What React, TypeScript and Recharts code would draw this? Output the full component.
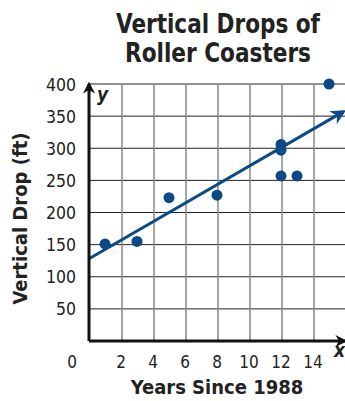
import { ComposedChart, Scatter, Line, XAxis, YAxis, CartesianGrid } from "recharts";

const years = [1, 3, 5, 8, 12, 12, 12, 13, 15];
const drops = [151, 155, 223, 227, 306, 297, 257, 257, 400];
const trendYears = [0, 15.9];
const trendDrops = [128, 357];
const xTicks = [0, 2, 4, 6, 8, 10, 12, 14];
const yTicks = [0, 50, 100, 150, 200, 250, 300, 350, 400];

const FONT = "'DejaVu Sans Condensed', 'DejaVu Sans', sans-serif";
const BLUE = "#0b4a85";
const INK = "#222";

const points = years.map((x, i) => ({ x, y: drops[i] }));
const trend = trendYears.map((x, i) => ({ x, y: trendDrops[i] }));

const XTick = (props: any) => {
  const { x, payload } = props;
  const dx = payload.value === 0 ? -17 : 0;
  return (
    <text x={x + dx} y={368} textAnchor="middle" fontFamily={FONT} fontSize={17} fill={INK}>
      {payload.value}
    </text>
  );
};

const YTick = (props: any) => {
  const { y, payload } = props;
  if (payload.value === 0) return <g />;
  return (
    <text x={76} y={y + 6.5} textAnchor="end" fontFamily={FONT} fontSize={17.5} fill={INK}>
      {payload.value}
    </text>
  );
};

export default function App() {
  return (
    <div style={{ position: "absolute", left: 0, top: 0, width: 345, height: 401, background: "#fff" }}>
      <ComposedChart width={345} height={401} margin={{ top: 84, right: 0, bottom: 0, left: 0 }}>
        <defs>
          <marker id="blueArrow" viewBox="0 0 10 10" refX="8" refY="5" markerWidth="5" markerHeight="5" orient="auto" markerUnits="strokeWidth">
            <path d="M0,0 L10,5 L0,10 L3,5 z" fill={BLUE} />
          </marker>
          <marker id="blackArrow" viewBox="0 0 10 10" refX="8" refY="5" markerWidth="4" markerHeight="4" orient="auto-start-reverse" markerUnits="strokeWidth">
            <path d="M0,0 L10,5 L0,10 L3,5 z" fill="#111" />
          </marker>
        </defs>
        <CartesianGrid vertical={false} stroke="#222" strokeWidth={1} />
        <CartesianGrid horizontal={false} stroke="#888" strokeWidth={1.5} verticalPoints={[122, 154, 186, 218, 250, 282, 314]} />
        <XAxis
          type="number"
          dataKey="x"
          domain={[0, 16]}
          ticks={xTicks}
          tick={<XTick />}
          tickLine={false}
          axisLine={{ stroke: "#111", strokeWidth: 3, markerEnd: "url(#blackArrow)" }}
          height={60}
          label={{ value: "Years Since 1988", position: "insideBottom", offset: 0, dy: -7, style: { fontFamily: FONT, fontWeight: 700, fontSize: 20, fill: INK } }}
        />
        <YAxis
          type="number"
          dataKey="y"
          domain={[0, 400]}
          ticks={yTicks}
          tick={<YTick />}
          tickLine={false}
          width={89}
          axisLine={{ stroke: "#111", strokeWidth: 3, markerStart: "url(#blackArrow)" }}
          label={{ value: "Vertical Drop (ft)", angle: -90, position: "insideLeft", offset: 0, dx: 20, dy: 6, style: { fontFamily: FONT, fontWeight: 700, fontSize: 20, fill: INK, textAnchor: "middle" } }}
        />
        <Line
          data={trend}
          dataKey="y"
          stroke={BLUE}
          strokeWidth={3}
          dot={false}
          activeDot={false}
          markerEnd="url(#blueArrow)"
          isAnimationActive={false}
        />
        <Scatter data={points} fill={BLUE} shape={(p: any) => <circle cx={p.cx} cy={p.cy} r={5.5} fill={BLUE} />} isAnimationActive={false} />
        <text x={218} y={33} textAnchor="middle" fontFamily={FONT} fontWeight={700} fontSize={27} fill={INK} textLength={204} lengthAdjust="spacingAndGlyphs">Vertical Drops of</text>
        <text x={218} y={62} textAnchor="middle" fontFamily={FONT} fontWeight={700} fontSize={27} fill={INK} textLength={186} lengthAdjust="spacingAndGlyphs">Roller Coasters</text>
        <text x={334} y={357} fontFamily={FONT} fontStyle="italic" fontWeight={700} fontSize={19} fill={INK}>x</text>
        <text x={97} y={101} fontFamily={FONT} fontStyle="italic" fontWeight={700} fontSize={19} fill={INK}>y</text>
      </ComposedChart>
    </div>
  );
}
